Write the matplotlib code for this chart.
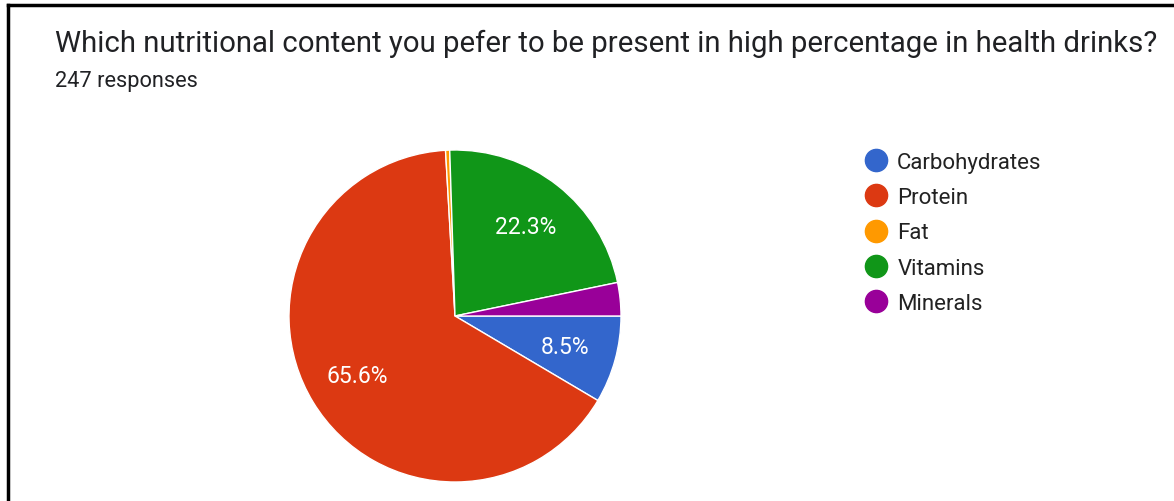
import matplotlib.pyplot as plt
from matplotlib.lines import Line2D

plt.rcParams['font.family'] = ['Roboto', 'DejaVu Sans']

labels = ["Carbohydrates", "Protein", "Fat", "Vitamins", "Minerals"]
counts = [21, 162, 1, 55, 8]  # 247 responses
colors = ["#3366CC", "#DC3912", "#FF9900", "#109618", "#990099"]

W, H = 1174, 502
fig = plt.figure(figsize=(W / 100, H / 100), dpi=100)

# pie axes: centre at (455, 317) px, radius 166 px
cx, cy, r = 455, 317, 166
half = 175
ax = fig.add_axes([(cx - half) / W, (H - cy - half) / H, 2 * half / W, 2 * half / H])


def pct(p):
    return f"{p:.1f}%" if p > 5 else ""


wedges, texts, autotexts = ax.pie(
    counts, colors=colors, startangle=0, counterclock=False,
    autopct=pct, pctdistance=0.69,
    wedgeprops=dict(edgecolor="white", linewidth=1),
    textprops=dict(color="white", fontsize=16.5))
lim = half / r
ax.set_xlim(-lim, lim)
ax.set_ylim(-lim, lim)
ax.set_aspect('equal')
ax.axis('off')

fig.text(55 / W, 1 - 44 / H, "Which nutritional content you pefer to be present in high percentage in health drinks?",
         fontsize=21.2, color="#202124", va="center", ha="left")
fig.text(55 / W, 1 - 82 / H, "247 responses", fontsize=15.7, color="#202124", va="center", ha="left")

handles = [Line2D([], [], marker='o', linestyle='', markersize=16, markerfacecolor=c, markeredgecolor=c)
           for c in colors]
fig.legend(handles, labels, loc='upper left', bbox_to_anchor=(865 / W, 1 - 153 / H),
           frameon=False, fontsize=16, labelcolor="#222222", handlelength=1.0, handletextpad=0.45,
           labelspacing=0.64, borderaxespad=0, borderpad=0)

# screenshot frame (left and top)
fig.add_artist(Line2D([8 / W, 8 / W], [0, 1 - 6 / H], color="black", linewidth=2.5))
fig.add_artist(Line2D([8 / W, 1], [1 - 6 / H, 1 - 6 / H], color="black", linewidth=2.5))

fig.savefig("out.png", dpi=100)
